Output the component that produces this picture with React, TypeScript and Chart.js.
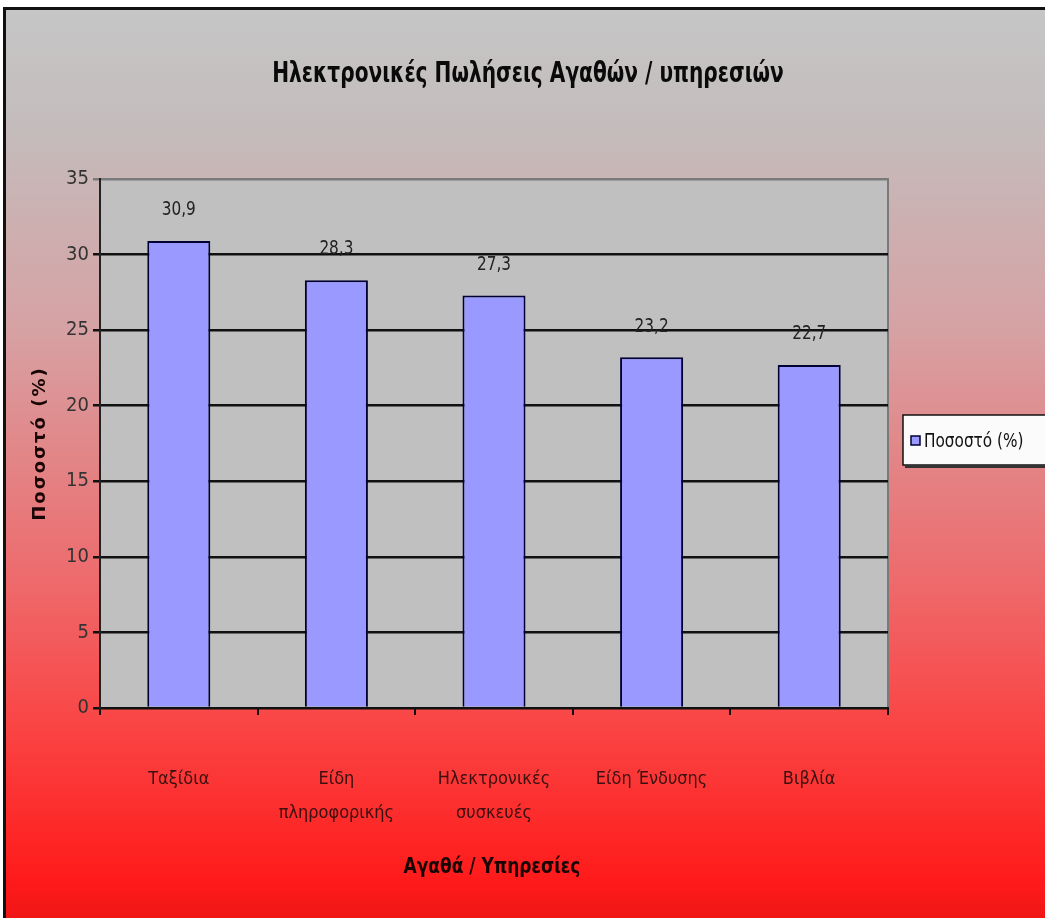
import React, { useEffect, useRef } from "react";
import { Chart, registerables } from "chart.js";

Chart.register(...registerables);

const categories: (string | string[])[] = [
  "Ταξίδια",
  ["Είδη", "πληροφορικής"],
  ["Ηλεκτρονικές", "συσκευές"],
  "Είδη Ένδυσης",
  "Βιβλία",
];
const seriesName = "Ποσοστό (%)";
const values = [30.9, 28.3, 27.3, 23.2, 22.7];
const chartTitle = "Ηλεκτρονικές Πωλήσεις Αγαθών / υπηρεσιών";
const xTitle = "Αγαθά / Υπηρεσίες";
const yTitle = "Ποσοστό (%)";
const yMin = 0;
const yMax = 35;
const yStep = 5;

const NARROW = "'Liberation Sans Narrow', 'DejaVu Sans Condensed', 'Liberation Sans', Arial, sans-serif";

const decor = {
  id: "decor",
  beforeDraw(chart: any) {
    const { ctx, width, height, chartArea } = chart;
    ctx.save();
    ctx.fillStyle = "#ffffff";
    ctx.fillRect(0, 0, width, height);
    const g = ctx.createLinearGradient(0, 8, 0, height);
    g.addColorStop(0, "#c6c6c6");
    g.addColorStop(0.13, "#c4bcbc");
    g.addColorStop(0.35, "#d6a2a4");
    g.addColorStop(0.63, "#ee6a6c");
    g.addColorStop(0.79, "#fa4444");
    g.addColorStop(0.96, "#ff1a1a");
    g.addColorStop(1, "#f01616");
    ctx.fillStyle = g;
    ctx.fillRect(5, 8, width - 5, height - 8);
    ctx.strokeStyle = "#111111";
    ctx.lineWidth = 3;
    ctx.beginPath();
    ctx.moveTo(4.5, height);
    ctx.lineTo(4.5, 8.5);
    ctx.lineTo(width, 8.5);
    ctx.stroke();
    // plot area
    ctx.fillStyle = "#c0c0c0";
    ctx.fillRect(chartArea.left, chartArea.top, chartArea.right - chartArea.left, chartArea.bottom - chartArea.top);
    ctx.strokeStyle = "#7a7a7a";
    ctx.lineWidth = 2;
    ctx.beginPath();
    ctx.moveTo(chartArea.left, chartArea.top);
    ctx.lineTo(chartArea.right, chartArea.top);
    ctx.lineTo(chartArea.right, chartArea.bottom);
    ctx.stroke();
    ctx.restore();
  },
  afterDatasetsDraw(chart: any) {
    const { ctx } = chart;
    const meta = chart.getDatasetMeta(0);
    ctx.save();
    ctx.fillStyle = "#222222";
    ctx.textAlign = "center";
    ctx.textBaseline = "middle";
    meta.data.forEach((bar: any, i: number) => {
      const label = String(values[i]).replace(".", ",");
      ctx.save();
      ctx.translate(bar.x, bar.y - 31);
      ctx.scale(0.85, 1);
      ctx.font = `20px ${NARROW}`;
      ctx.fillText(label, 0, 0);
      ctx.restore();
    });
    ctx.restore();
  },
  afterDraw(chart: any) {
    const { ctx, chartArea } = chart;
    ctx.save();
    // title
    ctx.fillStyle = "#0a0a0a";
    ctx.textAlign = "center";
    ctx.textBaseline = "middle";
    ctx.save();
    ctx.translate(528, 75);
    ctx.scale(0.8, 1);
    ctx.font = `bold 28px ${NARROW}`;
    ctx.fillText(chartTitle, 0, 0);
    ctx.restore();
    // x title
    ctx.save();
    ctx.translate((chartArea.left + chartArea.right) / 2 - 2, 868);
    ctx.scale(0.9, 1);
    ctx.font = `bold 21px ${NARROW}`;
    ctx.fillStyle = "#1a0505";
    ctx.fillText(xTitle, 0, 0);
    ctx.restore();
    // y title
    ctx.save();
    ctx.translate(40, (chartArea.top + chartArea.bottom) / 2);
    ctx.rotate(-Math.PI / 2);
    ctx.font = "bold 18px 'DejaVu Sans', sans-serif";
    (ctx as any).letterSpacing = "2px";
    ctx.fillStyle = "#1a0505";
    ctx.fillText(yTitle, 0, 0);
    ctx.restore();
    // legend
    const lx = 903, ly = 415, lw = 150, lh = 50;
    ctx.fillStyle = "#fbfbfb";
    ctx.fillRect(lx, ly, lw, lh);
    ctx.strokeStyle = "#111111";
    ctx.lineWidth = 1.5;
    ctx.strokeRect(lx, ly, lw, lh);
    ctx.fillStyle = "#333333";
    ctx.fillRect(lx + 2, ly + lh, lw, 3);
    ctx.fillStyle = "#9999ff";
    ctx.fillRect(lx + 8, ly + 21, 9, 9);
    ctx.strokeStyle = "#000033";
    ctx.lineWidth = 1.5;
    ctx.strokeRect(lx + 8, ly + 21, 9, 9);
    ctx.save();
    ctx.translate(lx + 21, ly + 27);
    ctx.scale(0.85, 1);
    ctx.fillStyle = "#111111";
    ctx.font = `20px ${NARROW}`;
    ctx.textAlign = "left";
    ctx.fillText(seriesName, 0, 0);
    ctx.restore();
    ctx.restore();
  },
};

export default function App() {
  const ref = useRef<HTMLCanvasElement>(null);
  useEffect(() => {
    if (!ref.current) return;
    const chart = new Chart(ref.current, {
      type: "bar",
      data: {
        labels: categories,
        datasets: [
          {
            label: seriesName,
            data: values,
            backgroundColor: "#9999ff",
            borderColor: "#000033",
            borderWidth: 2,
            categoryPercentage: 1,
            barPercentage: 0.4,
          },
        ],
      },
      options: {
        responsive: false,
        animation: false,
        layout: { padding: { top: 179, right: 157, left: 0, bottom: 0 } },
        plugins: { legend: { display: false }, title: { display: false }, tooltip: { enabled: false } },
        scales: {
          x: {
            afterFit: (s: any) => { s.height = 210; },
            grid: { display: true, drawOnChartArea: false, offset: true, tickLength: 7, color: "#111111", lineWidth: 2 },
            border: { display: true, color: "#111111", width: 2 },
            ticks: {
              color: "#3a1010",
              font: { family: NARROW, size: 18, lineHeight: 1.85 },
              padding: 48,
              maxRotation: 0,
              autoSkip: false,
            },
          },
          y: {
            min: yMin,
            max: yMax,
            afterFit: (s: any) => { s.width = 100; },
            grid: {
              color: (c: any) => (c.tick && c.tick.value === yMax ? "#7a7a7a" : "#111111"),
              lineWidth: 2.5,
              tickLength: 7,
            },
            border: { display: true, color: "#222222", width: 2 },
            ticks: {
              stepSize: yStep,
              color: "#333333",
              font: { family: NARROW, size: 20 },
              padding: 4,
            },
          },
        },
      },
      plugins: [decor],
    });
    return () => chart.destroy();
  }, []);
  return (
    <div style={{ position: "fixed", left: 0, top: 0, width: 1045, height: 918 }}>
      <canvas ref={ref} width={1045} height={918} style={{ display: "block" }} />
    </div>
  );
}
